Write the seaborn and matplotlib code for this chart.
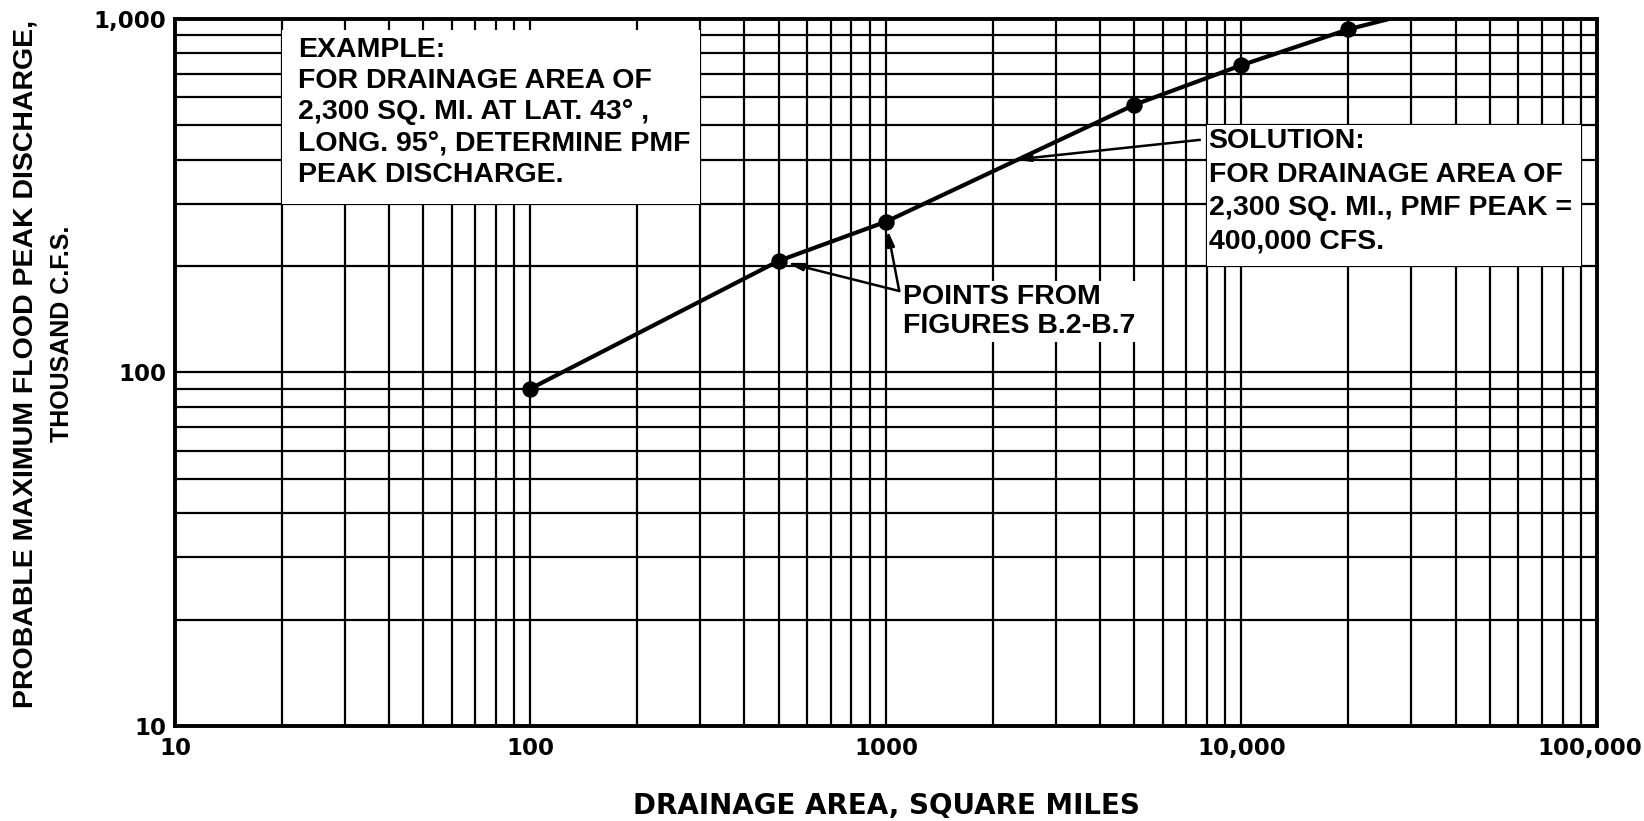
import matplotlib
matplotlib.use('Agg')
import matplotlib.pyplot as plt
import matplotlib.ticker as mticker
import matplotlib.patches as mpatches
import matplotlib.transforms as mtransforms
import seaborn as sns
import pandas as pd

area_pts = [100, 500, 1000, 5000, 10000, 20000]
peak_pts = [90, 207, 267, 572, 740, 935]

# drawn curve, runs on to the top edge of the chart
area_curve = [100, 500, 1000, 5000, 10000, 20000, 26000]
peak_curve = [90, 207, 267, 572, 740, 935, 1000]

# worked example
solution_area = 2300
solution_peak = 400

x_ticks = [10, 100, 1000, 10000, 100000]
x_tick_labels = ['10', '100', '1000', '10,000', '100,000']
y_ticks = [10, 100, 1000]
y_tick_labels = ['10', '100', '1,000']

example_text = ('EXAMPLE:\nFOR DRAINAGE AREA OF\n2,300 SQ. MI. AT LAT. 43\u00b0 ,\n'
                'LONG. 95\u00b0, DETERMINE PMF\nPEAK DISCHARGE.')
solution_text = ('SOLUTION:\nFOR DRAINAGE AREA OF\n2,300 SQ. MI., PMF PEAK =\n'
                 '400,000 CFS.')
points_text = 'POINTS FROM\nFIGURES B.2-B.7'

sns.set_style('white')
plt.rcParams['font.family'] = ['DejaVu Sans']
plt.rcParams['font.weight'] = 'bold'
plt.rcParams['text.color'] = 'black'
plt.rcParams['axes.labelcolor'] = 'black'
plt.rcParams['xtick.color'] = 'black'
plt.rcParams['ytick.color'] = 'black'
note_font = ['Liberation Sans', 'DejaVu Sans']

df_pts = pd.DataFrame({'area': area_pts, 'peak': peak_pts})
df_curve = pd.DataFrame({'area': area_curve, 'peak': peak_curve})

fig = plt.figure(figsize=(16.44, 8.21), dpi=100)
ax = fig.add_axes([0.1064, 0.1157, 0.865, 0.8612])
ax.set_xscale('log')
ax.set_yscale('log')

sns.lineplot(data=df_curve, x='area', y='peak', color='black', lw=3.0,
             sort=False, ax=ax, zorder=4)
sns.scatterplot(data=df_pts, x='area', y='peak', color='black', s=140,
                edgecolor='black', linewidth=0, ax=ax, zorder=5)

ax.set_xlim(10, 100000)
ax.set_ylim(10, 1000)

# log paper grid
ax.xaxis.set_major_locator(mticker.FixedLocator(x_ticks))
ax.yaxis.set_major_locator(mticker.FixedLocator(y_ticks))
ax.xaxis.set_major_formatter(mticker.FixedFormatter(x_tick_labels))
ax.yaxis.set_major_formatter(mticker.FixedFormatter(y_tick_labels))
ax.xaxis.set_minor_locator(mticker.LogLocator(base=10, subs=range(2, 10), numticks=20))
ax.yaxis.set_minor_locator(mticker.LogLocator(base=10, subs=range(2, 10), numticks=20))
ax.xaxis.set_minor_formatter(mticker.NullFormatter())
ax.yaxis.set_minor_formatter(mticker.NullFormatter())
ax.grid(which='both', color='black', lw=1.6)
ax.set_axisbelow(True)
for s in ax.spines.values():
    s.set_color('black')
    s.set_linewidth(2.8)
    s.set_zorder(6)

ax.tick_params(which='both', length=0, labelsize=16.5)
ax.tick_params(axis='x', pad=8)
ax.tick_params(axis='y', pad=6)
# pull the last x label in a bit so it stays on the page
lbl = ax.get_xticklabels()[-1]
lbl.set_transform(lbl.get_transform() +
                  mtransforms.ScaledTranslation(-5 / 72, 0, fig.dpi_scale_trans))

ax.set_xlabel('DRAINAGE AREA, SQUARE MILES', fontsize=20, fontweight='bold')
ax.xaxis.set_label_coords(0.5, -0.093)

# y label: two lines, the second one set smaller
ax.set_ylabel('PROBABLE MAXIMUM FLOOD PEAK DISCHARGE,', fontsize=20.5,
              fontweight='bold', family=note_font, va='center')
ax.yaxis.set_label_coords(-0.1048, 0.512)
ax.text(-0.0795, 0.5545, 'THOUSAND C.F.S.', transform=ax.transAxes,
        rotation=90, ha='center', va='center', fontsize=18,
        fontweight='bold', family=note_font)

# white boxes cut out of the grid behind the notes
ax.add_patch(mpatches.Rectangle((20, 300), 280, 630, facecolor='white',
                                edgecolor='none', zorder=2))
ax.add_patch(mpatches.Rectangle((8000, 200), 82000, 300, facecolor='white',
                                edgecolor='none', zorder=2))

ax.text(22.2, 889, example_text, fontsize=20.5, fontweight='bold', ha='left',
        va='top', linespacing=1.26, family=note_font, zorder=3)
ax.text(8080, 490, solution_text, fontsize=20.5, fontweight='bold', ha='left',
        va='top', linespacing=1.36, family=note_font, zorder=3)
ax.text(1120, 178, points_text, fontsize=20.5, fontweight='bold', ha='left',
        va='top', linespacing=1.13, family=note_font, zorder=3,
        bbox=dict(boxstyle='square,pad=0.12', fc='white', ec='none'))

arrow = dict(arrowstyle='-|>,head_length=0.9,head_width=0.22', color='black',
             lw=1.8, shrinkA=0)
ax.annotate('', xy=(solution_area, solution_peak), xytext=(7640, 455),
            arrowprops=dict(arrow, shrinkB=0), zorder=6)
for i in (1, 2):
    ax.annotate('', xy=(area_pts[i], peak_pts[i]), xytext=(1090, 170),
                arrowprops=dict(arrow, shrinkB=6), zorder=6)

fig.savefig('out.png', dpi=100)
